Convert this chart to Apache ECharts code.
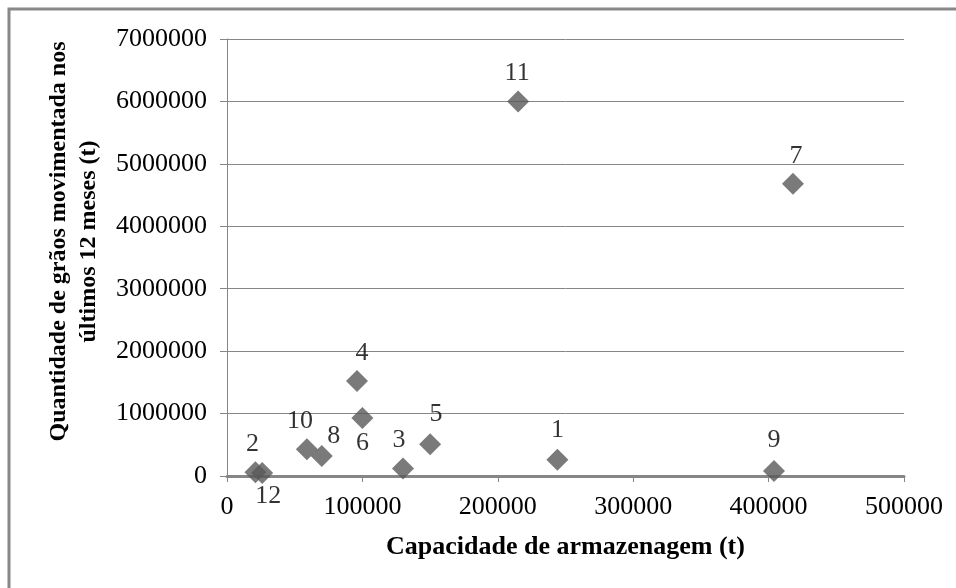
<!DOCTYPE html>
<html>
<head>
<meta charset="utf-8">
<script src="https://cdn.jsdelivr.net/npm/echarts@6/dist/echarts.min.js"></script>
<style>
html,body{margin:0;padding:0;background:#fff;}
#c{width:956px;height:588px;}
</style>
</head>
<body>
<div id="c"></div>
<script>
const pointIds = ['1','2','3','4','5','6','7','8','9','10','11','12'];
const capacity = [244000, 21000, 130000, 96000, 150000, 100000, 418000, 70000, 404000, 59000, 215000, 26000];
const grain = [260000, 60000, 120000, 1520000, 510000, 930000, 4680000, 320000, 80000, 430000, 6000000, 50000];
const xTicks = [0, 100000, 200000, 300000, 400000, 500000];
const yTicks = [0, 1000000, 2000000, 3000000, 4000000, 5000000, 6000000, 7000000];
const xTitle = 'Capacidade de armazenagem (t)';
const yTitle = 'Quantidade de grãos movimentada nos\núltimos 12 meses (t)';

// label offsets (style only)
const labelOffsets = {
  '1': [0, -2], '2': [-3, 0], '3': [-4, 0], '4': [5, 0], '5': [6, -2], '6': [0, 0],
  '7': [3, 0], '8': [12, 8], '9': [0, -3], '10': [-7, 0], '11': [-1, 0], '12': [6, -2]
};
const labelBelow = {'6': true, '12': true};

const font = '"Liberation Serif", "Times New Roman", serif';
const data = pointIds.map((id, i) => ({
  value: [capacity[i], grain[i]],
  name: id,
  label: {
    show: true,
    formatter: id,
    position: labelBelow[id] ? 'bottom' : 'top',
    distance: labelBelow[id] ? 1 : 4,
    offset: labelOffsets[id],
    color: '#000',
    fontFamily: font,
    fontSize: 26
  }
}));

const chart = echarts.init(document.getElementById('c'), null, {renderer: 'canvas'});
chart.setOption({
  animation: false,
  backgroundColor: '#fff',
  graphic: [{
    type: 'rect',
    shape: {x: 9, y: 9, width: 1000, height: 700},
    style: {fill: 'none', stroke: '#888', lineWidth: 3},
    silent: true, z: -1
  }],
  grid: {left: 227, right: 52, top: 39, bottom: 112, containLabel: false},
  xAxis: {
    type: 'value',
    min: xTicks[0], max: xTicks[xTicks.length - 1], interval: xTicks[1] - xTicks[0],
    name: xTitle, nameLocation: 'middle', nameGap: 58,
    nameTextStyle: {fontFamily: font, fontSize: 26, fontWeight: 'bold', color: '#000'},
    axisLine: {show: true, onZero: false, lineStyle: {color: '#868686', width: 3}},
    axisTick: {show: true, inside: false, length: 6, lineStyle: {color: '#868686', width: 1}},
    axisLabel: {fontFamily: font, fontSize: 26, color: '#000', margin: 18, formatter: v => String(v)},
    splitLine: {show: false}
  },
  yAxis: {
    type: 'value',
    min: yTicks[0], max: yTicks[yTicks.length - 1], interval: yTicks[1] - yTicks[0],
    name: yTitle, nameLocation: 'middle', nameGap: 123,
    nameTextStyle: {fontFamily: font, fontSize: 24, fontWeight: 'bold', color: '#000', lineHeight: 30, padding: [0, 0, 0, 32]},
    axisLine: {show: true, onZero: false, lineStyle: {color: '#868686', width: 1}},
    axisTick: {show: true, inside: false, length: 7, lineStyle: {color: '#868686', width: 1}},
    axisLabel: {fontFamily: font, fontSize: 26, color: '#000', margin: 20, formatter: v => String(v)},
    splitLine: {show: true, lineStyle: {color: '#868686', width: 1}}
  },
  series: [{
    type: 'scatter',
    symbol: 'diamond',
    symbolSize: 22,
    itemStyle: {color: '#595959'},
    data: data
  }]
});
</script>
</body>
</html>
